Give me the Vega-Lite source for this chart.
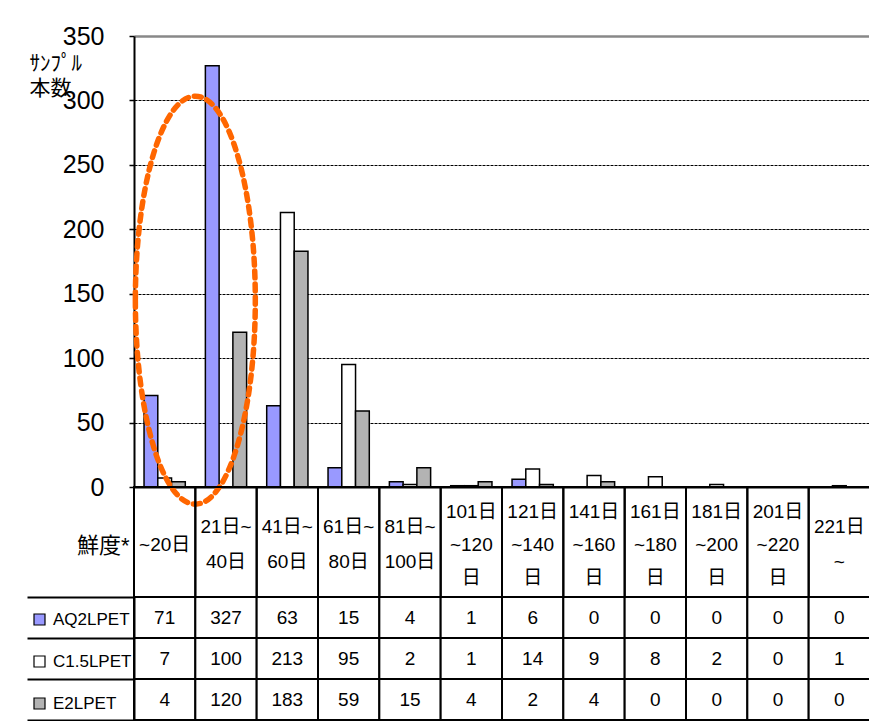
{
  "$schema": "https://vega.github.io/schema/vega-lite/v6.json",
  "padding": {"left": 26, "top": 24, "right": 0, "bottom": 0},
  "autosize": {"type": "pad"},
  "background": "white",
  "datasets": {
    "counts": [
      {"category": "~20日", "series": "AQ2LPET", "count": 71},
      {"category": "~20日", "series": "C1.5LPET", "count": 7},
      {"category": "~20日", "series": "E2LPET", "count": 4},
      {"category": "21日~\n40日", "series": "AQ2LPET", "count": 327},
      {"category": "21日~\n40日", "series": "C1.5LPET", "count": 100},
      {"category": "21日~\n40日", "series": "E2LPET", "count": 120},
      {"category": "41日~\n60日", "series": "AQ2LPET", "count": 63},
      {"category": "41日~\n60日", "series": "C1.5LPET", "count": 213},
      {"category": "41日~\n60日", "series": "E2LPET", "count": 183},
      {"category": "61日~\n80日", "series": "AQ2LPET", "count": 15},
      {"category": "61日~\n80日", "series": "C1.5LPET", "count": 95},
      {"category": "61日~\n80日", "series": "E2LPET", "count": 59},
      {"category": "81日~\n100日", "series": "AQ2LPET", "count": 4},
      {"category": "81日~\n100日", "series": "C1.5LPET", "count": 2},
      {"category": "81日~\n100日", "series": "E2LPET", "count": 15},
      {"category": "101日\n~120\n日", "series": "AQ2LPET", "count": 1},
      {"category": "101日\n~120\n日", "series": "C1.5LPET", "count": 1},
      {"category": "101日\n~120\n日", "series": "E2LPET", "count": 4},
      {"category": "121日\n~140\n日", "series": "AQ2LPET", "count": 6},
      {"category": "121日\n~140\n日", "series": "C1.5LPET", "count": 14},
      {"category": "121日\n~140\n日", "series": "E2LPET", "count": 2},
      {"category": "141日\n~160\n日", "series": "AQ2LPET", "count": 0},
      {"category": "141日\n~160\n日", "series": "C1.5LPET", "count": 9},
      {"category": "141日\n~160\n日", "series": "E2LPET", "count": 4},
      {"category": "161日\n~180\n日", "series": "AQ2LPET", "count": 0},
      {"category": "161日\n~180\n日", "series": "C1.5LPET", "count": 8},
      {"category": "161日\n~180\n日", "series": "E2LPET", "count": 0},
      {"category": "181日\n~200\n日", "series": "AQ2LPET", "count": 0},
      {"category": "181日\n~200\n日", "series": "C1.5LPET", "count": 2},
      {"category": "181日\n~200\n日", "series": "E2LPET", "count": 0},
      {"category": "201日\n~220\n日", "series": "AQ2LPET", "count": 0},
      {"category": "201日\n~220\n日", "series": "C1.5LPET", "count": 0},
      {"category": "201日\n~220\n日", "series": "E2LPET", "count": 0},
      {"category": "221日\n~", "series": "AQ2LPET", "count": 0},
      {"category": "221日\n~", "series": "C1.5LPET", "count": 1},
      {"category": "221日\n~", "series": "E2LPET", "count": 0}
    ],
    "highlight": [
      {"category": "~20日", "count": 145}
    ]
  },
  "bounds": "flush",
  "spacing": 0,
  "vconcat": [
    {
      "width": 736,
      "height": 451,
      "layer": [
        {
          "data": {"name": "counts"},
          "transform": [
            {"filter": "!(datum.series === 'C1.5LPET' && indexof(datum.category, '21日') === 0)"}
          ],
          "mark": {"type": "bar", "stroke": "black", "strokeWidth": 1.5},
          "encoding": {
            "x": {
              "field": "category", "type": "nominal", "sort": null,
              "scale": {"domain": ["~20日", "21日~\n40日", "41日~\n60日", "61日~\n80日", "81日~\n100日", "101日\n~120\n日", "121日\n~140\n日", "141日\n~160\n日", "161日\n~180\n日", "181日\n~200\n日", "201日\n~220\n日", "221日\n~"], "paddingInner": 0, "paddingOuter": 0},
              "axis": {"labels": false, "ticks": false, "title": null, "domainColor": "black", "domainWidth": 2, "grid": false}
            },
            "xOffset": {
              "field": "series", "type": "nominal", "sort": null,
              "scale": {"domain": ["AQ2LPET", "C1.5LPET", "E2LPET"], "paddingInner": 0, "paddingOuter": 0.73}
            },
            "y": {
              "field": "count", "type": "quantitative",
              "scale": {"domain": [0, 350], "nice": false},
              "axis": {
                "values": [0, 50, 100, 150, 200, 250, 300, 350],
                "title": ["ｻﾝﾌﾟﾙ", "本数"],
                "titleAngle": 0, "titleX": -105, "titleY": 16,
                "titleAlign": "left", "titleBaseline": "top",
                "titleFont": "Noto Sans CJK JP", "titleFontSize": 21, "titleFontWeight": "normal",
                "titleLineHeight": 25, "titleColor": "black",
                "labelFont": "Liberation Sans Narrow, Liberation Sans, sans-serif",
                "labelFontSize": 25, "labelColor": "black", "labelPadding": 25,
                "tickColor": "black", "tickSize": 5, "tickWidth": 1.5,
                "domainColor": "black", "domainWidth": 2,
                "grid": true,
                "gridColor": {"condition": {"test": "datum.value === 350", "value": "#888888"}, "value": "black"},
                "gridDash": {"condition": {"test": "datum.value === 350", "value": []}, "value": [3, 1]},
                "gridWidth": {"condition": {"test": "datum.value === 350", "value": 2.5}, "value": 1.2},
                "gridOpacity": 1
              }
            },
            "color": {
              "field": "series", "type": "nominal",
              "scale": {"domain": ["AQ2LPET", "C1.5LPET", "E2LPET"], "range": ["#9999FF", "#FFFFFF", "#B3B3B3"]},
              "legend": {
                "orient": "none", "legendX": -103, "legendY": 575,
                "title": null, "symbolType": "square", "symbolSize": 121,
                "symbolStrokeColor": "black", "symbolStrokeWidth": 1.2,
                "labelFont": "Liberation Sans Narrow, Liberation Sans, sans-serif",
                "labelFontSize": 17, "labelColor": "black", "labelOffset": 5,
                "rowPadding": 24
              }
            }
          }
        },
        {
          "data": {"name": "highlight"},
          "mark": {
            "type": "point",
            "shape": "M -0.294 0 A 0.294 1 0 1 0 0.294 0 A 0.294 1 0 1 0 -0.294 0",
            "size": 166464, "filled": false, "fill": null, "dx": 3,
            "stroke": "#FF6600", "strokeWidth": 5.5, "strokeDash": [7, 6], "strokeCap": "round", "opacity": 1
          },
          "encoding": {
            "x": {"field": "category", "type": "nominal", "bandPosition": 1},
            "y": {"field": "count", "type": "quantitative"}
          }
        }
      ]
    },
    {
      "width": 736,
      "height": 110,
      "data": {"name": "counts"},
      "transform": [{"filter": "datum.series === 'AQ2LPET'"}],
      "encoding": {
        "x": {"field": "category", "type": "nominal", "sort": null, "scale": {"domain": ["~20日", "21日~\n40日", "41日~\n60日", "61日~\n80日", "81日~\n100日", "101日\n~120\n日", "121日\n~140\n日", "141日\n~160\n日", "161日\n~180\n日", "181日\n~200\n日", "201日\n~220\n日", "221日\n~"], "paddingInner": 0, "paddingOuter": 0}, "axis": null},
        "y": {
          "datum": "鮮度*", "type": "nominal",
          "scale": {"paddingInner": 0, "paddingOuter": 0},
          "axis": {"title": null, "ticks": false, "domain": false, "labelFont": "Liberation Sans, Noto Sans CJK JP", "labelFontSize": 22, "labelColor": "black", "labelPadding": 5, "labelOffset": 4}
        }
      },
      "layer": [
        {
          "mark": {"type": "rect", "fill": "white", "fillOpacity": 0, "stroke": "black", "strokeWidth": 2}
        },
        {
          "transform": [{"filter": {"field": "category", "oneOf": ["~20日"]}}],
          "mark": {"type": "text", "font": "Liberation Sans Narrow, Liberation Sans, Noto Sans CJK JP, sans-serif", "fontSize": 19, "lineBreak": "\n", "lineHeight": 34, "color": "black", "baseline": "middle", "dy": 3},
          "encoding": {"text": {"field": "category", "type": "nominal"}}
        },
        {
          "transform": [{"filter": {"field": "category", "oneOf": ["21日~\n40日", "41日~\n60日", "61日~\n80日", "81日~\n100日", "221日\n~"]}}],
          "mark": {"type": "text", "font": "Liberation Sans Narrow, Liberation Sans, Noto Sans CJK JP, sans-serif", "fontSize": 19, "lineBreak": "\n", "lineHeight": 35, "color": "black", "baseline": "middle", "dy": -15},
          "encoding": {"text": {"field": "category", "type": "nominal"}}
        },
        {
          "transform": [{"filter": {"field": "category", "oneOf": ["101日\n~120\n日", "121日\n~140\n日", "141日\n~160\n日", "161日\n~180\n日", "181日\n~200\n日", "201日\n~220\n日"]}}],
          "mark": {"type": "text", "font": "Liberation Sans Narrow, Liberation Sans, Noto Sans CJK JP, sans-serif", "fontSize": 19, "lineBreak": "\n", "lineHeight": 33, "color": "black", "baseline": "middle", "dy": -30},
          "encoding": {"text": {"field": "category", "type": "nominal"}}
        }
      ]
    },
    {
      "width": 736,
      "height": 123,
      "data": {"name": "counts"},
      "encoding": {
        "x": {"field": "category", "type": "nominal", "sort": null, "scale": {"domain": ["~20日", "21日~\n40日", "41日~\n60日", "61日~\n80日", "81日~\n100日", "101日\n~120\n日", "121日\n~140\n日", "141日\n~160\n日", "161日\n~180\n日", "181日\n~200\n日", "201日\n~220\n日", "221日\n~"], "paddingInner": 0, "paddingOuter": 0}, "axis": null},
        "y": {
          "field": "series", "type": "nominal", "sort": null,
          "scale": {"domain": ["AQ2LPET", "C1.5LPET", "E2LPET"], "paddingInner": 0, "paddingOuter": 0},
          "axis": {"labels": false, "title": null, "tickBand": "extent", "tickSize": 107, "tickColor": "black", "tickWidth": 2, "domainColor": "black", "domainWidth": 2}
        }
      },
      "layer": [
        {
          "mark": {"type": "rect", "fill": "white", "stroke": "black", "strokeWidth": 2}
        },
        {
          "mark": {"type": "text", "font": "Liberation Sans Narrow, Liberation Sans, sans-serif", "fontSize": 19, "color": "black", "baseline": "middle"},
          "encoding": {"text": {"field": "count", "type": "quantitative"}}
        }
      ]
    }
  ],
  "config": {
    "view": {"stroke": null},
    "font": "Liberation Sans Narrow, Liberation Sans, Noto Sans CJK JP, sans-serif"
  }
}
